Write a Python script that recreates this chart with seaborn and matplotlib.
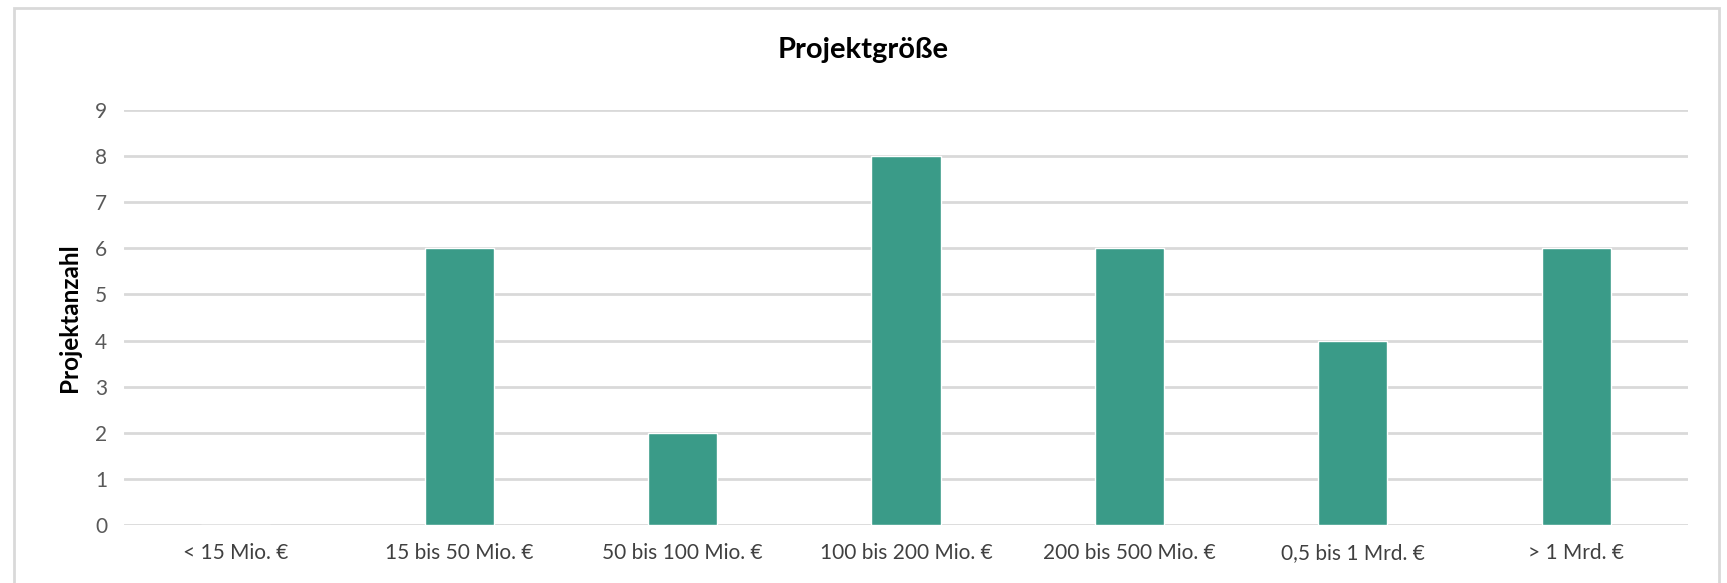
import pandas as pd
import seaborn as sns
import matplotlib.pyplot as plt
from matplotlib.patches import Rectangle

# Data
categories = ['< 15 Mio. €', '15 bis 50 Mio. €', '50 bis 100 Mio. €', '100 bis 200 Mio. €',
              '200 bis 500 Mio. €', '0,5 bis 1 Mrd. €', '> 1 Mrd. €']
counts = [0, 6, 2, 8, 6, 4, 6]
y_ticks = list(range(0, 10))

data = pd.DataFrame({'Größe': categories, 'Projektanzahl': counts})

sns.set_style('white')
plt.rcParams['font.family'] = ['Lato', 'DejaVu Sans']

W, H = 1727, 583
fig = plt.figure(figsize=(W / 100, H / 100), dpi=100)
ax = fig.add_axes([124 / W, 1 - 525 / H, (1688 - 124) / W, (525 - 110) / H])

sns.barplot(x='Größe', y='Projektanzahl', data=data, color='#3A9B88',
            width=0.31, saturation=1, ax=ax, zorder=3)

ax.set_ylim(0, 9)
ax.set_yticks(y_ticks)
ax.yaxis.grid(True, color='#D9D9D9', linewidth=2, zorder=0)
ax.set_axisbelow(True)
for s in ax.spines.values():
    s.set_visible(False)
ax.tick_params(axis='both', length=0, labelsize=15, labelcolor='#595959')
ax.tick_params(axis='y', pad=12)
ax.tick_params(axis='x', labelcolor='#404040', pad=13)
ax.set_xlabel('')
ax.set_ylabel('Projektanzahl', fontsize=17.5, fontweight='bold', color='black', labelpad=10)

fig.text(0.5, 1 - 50 / H, 'Projektgröße', ha='center', va='center',
         fontsize=21, fontweight='bold', color='black')

# outer chart border
fig.patches.append(Rectangle((14 / W, -0.05), (1719 - 14) / W, 1.05 - 8 / H,
                             transform=fig.transFigure, fill=False,
                             edgecolor='#D9D9D9', linewidth=2))

fig.savefig('out.png', dpi=100)
